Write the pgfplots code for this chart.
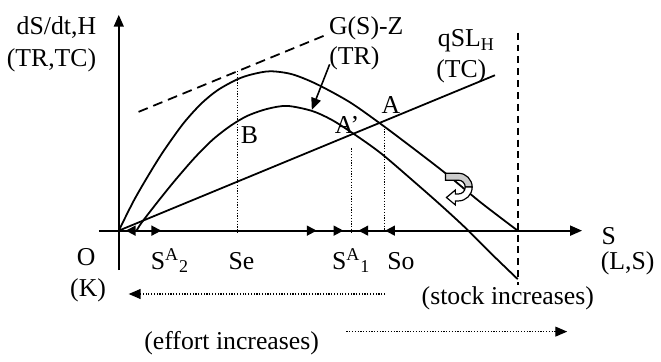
\documentclass[border=0pt]{standalone}
\usepackage{fontspec}
\setmainfont{Liberation Serif}
\usepackage{pgfplots}
\pgfplotsset{compat=1.18}
\usetikzlibrary{arrows.meta}
\begin{document}
\begin{tikzpicture}[font=\fontsize{13}{15}\selectfont]
\begin{axis}[
  x=0.5pt, y=0.5pt,
  xmin=-20, xmax=468, ymin=-40, ymax=218,
  axis lines=middle,
  enlargelimits=false,
  xtick=\empty, ytick=\empty,
  clip=false,
  axis line style={line width=0.9pt, -{Triangle[length=6pt,width=5pt]}},
]
% bounding box of the whole figure
\path (axis cs:-120,233) rectangle (axis cs:541,-125);

% G(S)
\addplot[line width=0.9pt, smooth] coordinates {
  (0,0) (15,30) (30,56) (45,80) (65,108) (83,128) (100,142) (120,153)
  (135,158) (153,161) (175,158) (200,148) (233,130) (263,109) (295,85)
  (330,58) (365,29) (403,0)
};
% G(S)-Z
\addplot[line width=0.9pt, smooth] coordinates {
  (18,0) (23,8) (40,30) (57,51) (77,74) (95,92) (113,106) (130,116)
  (150,123) (170,126) (195,121) (215,112) (237,98) (265,78) (300,48)
  (325,26) (350,3) (375,-22) (403,-49)
};
% qSL_H
\addplot[line width=0.9pt] coordinates {(0,0) (380,157)};
% tangent
\addplot[line width=0.9pt, dash pattern=on 5pt off 3pt] coordinates {(20,120) (210,198)};
% carrying capacity
\addplot[line width=1pt, dash pattern=on 3.5pt off 2.5pt] coordinates {(403,200) (403,-55)};
% dotted verticals
\addplot[line width=0.5pt, dash pattern=on 0.6pt off 0.8pt] coordinates {(120,161) (120,-3)};
\addplot[line width=0.5pt, dash pattern=on 0.6pt off 0.8pt] coordinates {(235,83) (235,-3)};
\addplot[line width=0.5pt, dash pattern=on 0.6pt off 0.8pt] coordinates {(268,103) (268,-3)};

% arrowheads on the S axis
\addplot[line width=0.9pt, -{Triangle[length=5pt,width=5pt]}] coordinates {(19,0) (7,0)};
\addplot[line width=0.9pt, -{Triangle[length=5pt,width=5pt]}] coordinates {(31,0) (43,0)};
\addplot[line width=0.9pt, -{Triangle[length=5pt,width=5pt]}] coordinates {(188,0) (200,0)};
\addplot[line width=0.9pt, -{Triangle[length=5pt,width=5pt]}] coordinates {(215,0) (227,0)};
\addplot[line width=0.9pt, -{Triangle[length=5pt,width=5pt]}] coordinates {(254,0) (242,0)};
\addplot[line width=0.9pt, -{Triangle[length=5pt,width=5pt]}] coordinates {(281,0) (269,0)};

% pointer from label to G(S)-Z
\addplot[line width=0.8pt, -{Triangle[length=6pt,width=5pt]}] coordinates {(213,168) (195,122)};

% dotted direction arrows
\addplot[line width=0.6pt, dash pattern=on 0.6pt off 0.8pt, -{Triangle[length=6pt,width=5pt]}] coordinates {(269,-64) (10,-64)};
\addplot[line width=0.6pt, dash pattern=on 0.6pt off 0.8pt, -{Triangle[length=6pt,width=5pt]}] coordinates {(230,-102) (453,-102)};

% curved arrow
\filldraw[line width=0.6pt, fill=gray!40] (330,58) -- (343,58)
  arc[start angle=90, end angle=0, radius=7pt] -- (350,44)
  arc[start angle=0, end angle=90, radius=3.5pt] -- (330,51) -- cycle;
\filldraw[line width=0.6pt, fill=white] (357,44)
  arc[start angle=0, end angle=-90, radius=7pt] -- (340,30) -- (340,26)
  -- (331,33.5) -- (340,41) -- (340,37) -- (343,37)
  arc[start angle=-90, end angle=0, radius=3.5pt] -- cycle;

% labels
\node[anchor=base] at (axis cs:-63,198) {dS/dt,H};
\node[anchor=base] at (axis cs:-68,166) {(TR,TC)};
\node[anchor=base] at (axis cs:250,198) {G(S)-Z};
\node[anchor=base] at (axis cs:238,168) {(TR)};
\node[anchor=base west, inner sep=0pt] at (axis cs:322,186) {qSL\textsubscript{H}};
\node[anchor=base] at (axis cs:346,155) {(TC)};
\node[anchor=base] at (axis cs:275,118) {A};
\node[anchor=base west, inner sep=0pt] at (axis cs:218,98) {A’};
\node[anchor=base] at (axis cs:132,88) {B};
\node[anchor=base] at (axis cs:-33,-35) {O};
\node[anchor=base] at (axis cs:-31,-67) {(K)};
\node[anchor=base west, inner sep=0pt] at (axis cs:32,-39) {S\textsuperscript{A}\textsubscript{2}};
\node[anchor=base] at (axis cs:124,-39) {Se};
\node[anchor=base west, inner sep=0pt] at (axis cs:215,-39) {S\textsuperscript{A}\textsubscript{1}};
\node[anchor=base] at (axis cs:285,-39) {So};
\node[anchor=base] at (axis cs:495,-14) {S};
\node[anchor=base] at (axis cs:514,-39) {(L,S)};
\node[anchor=base] at (axis cs:393,-75) {(stock increases)};
\node[anchor=base] at (axis cs:114,-120) {(effort increases)};
\end{axis}
\end{tikzpicture}
\end{document}
